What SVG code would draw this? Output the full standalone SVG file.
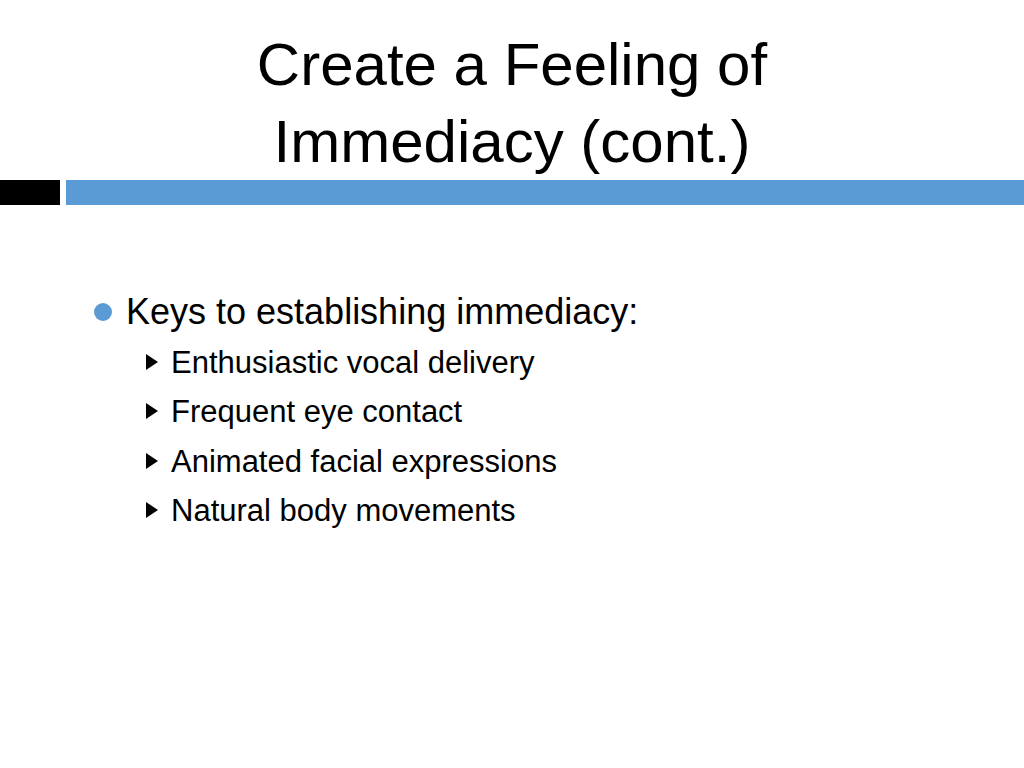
<svg xmlns="http://www.w3.org/2000/svg" width="1024" height="768" viewBox="0 0 1024 768">
<style>
text{font-family:"Liberation Sans",Arial,sans-serif;fill:#000}
.t{font-size:60px}
.b1{font-size:36px}
.b2{font-size:31px}
</style>
<rect width="1024" height="768" fill="#fff"/>
<g id="title">
<text class="t" x="512" y="85" text-anchor="middle">Create a Feeling of</text>
<text class="t" x="512" y="162" text-anchor="middle">Immediacy (cont.)</text>
</g>
<g id="bar">
<rect x="0" y="180" width="60" height="25" fill="#000"/>
<rect x="66" y="180" width="958" height="25" fill="#5b9bd5"/>
</g>
<g id="body">
<circle cx="103" cy="312" r="9" fill="#5b9bd5"/>
<text class="b1" x="126" y="324">Keys to establishing immediacy:</text>
<g fill="#000">
<polygon points="146,354 146,370 158,362"/>
<polygon points="146,403 146,419 158,411"/>
<polygon points="146,453 146,469 158,461"/>
<polygon points="146,502 146,518 158,510"/>
</g>
<text class="b2" x="171" y="373">Enthusiastic vocal delivery</text>
<text class="b2" x="171" y="422">Frequent eye contact</text>
<text class="b2" x="171" y="472">Animated facial expressions</text>
<text class="b2" x="171" y="521">Natural body movements</text>
</g>
</svg>
